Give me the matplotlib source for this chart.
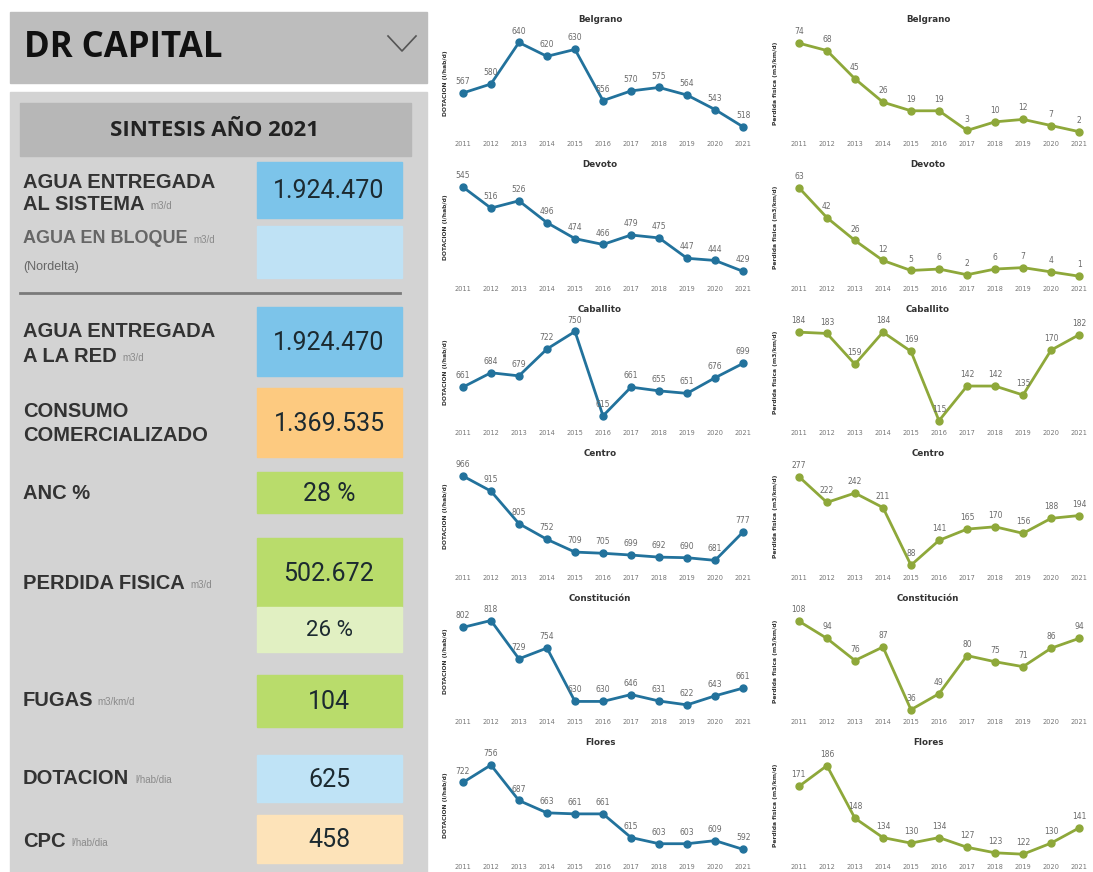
import matplotlib
matplotlib.use("Agg")
import matplotlib.pyplot as plt
from matplotlib.patches import Rectangle
from matplotlib.lines import Line2D

years = [2011, 2012, 2013, 2014, 2015, 2016, 2017, 2018, 2019, 2020, 2021]
barrios = ["Belgrano", "Devoto", "Caballito", "Centro", "Constitución", "Flores"]

dotacion_belgrano = [567, 580, 640, 620, 630, 556, 570, 575, 564, 543, 518]
dotacion_devoto = [545, 516, 526, 496, 474, 466, 479, 475, 447, 444, 429]
dotacion_caballito = [661, 684, 679, 722, 750, 615, 661, 655, 651, 676, 699]
dotacion_centro = [966, 915, 805, 752, 709, 705, 699, 692, 690, 681, 777]
dotacion_constitucion = [802, 818, 729, 754, 630, 630, 646, 631, 622, 643, 661]
dotacion_flores = [722, 756, 687, 663, 661, 661, 615, 603, 603, 609, 592]

perdida_belgrano = [74, 68, 45, 26, 19, 19, 3, 10, 12, 7, 2]
perdida_devoto = [63, 42, 26, 12, 5, 6, 2, 6, 7, 4, 1]
perdida_caballito = [184, 183, 159, 184, 169, 115, 142, 142, 135, 170, 182]
perdida_centro = [277, 222, 242, 211, 88, 141, 165, 170, 156, 188, 194]
perdida_constitucion = [108, 94, 76, 87, 36, 49, 80, 75, 71, 86, 94]
perdida_flores = [171, 186, 148, 134, 130, 134, 127, 123, 122, 130, 141]

dotacion = [dotacion_belgrano, dotacion_devoto, dotacion_caballito,
            dotacion_centro, dotacion_constitucion, dotacion_flores]
perdida = [perdida_belgrano, perdida_devoto, perdida_caballito,
           perdida_centro, perdida_constitucion, perdida_flores]

kpi_titulo = "DR CAPITAL"
kpi_anio = "SINTESIS AÑO 2021"
kpi_valores = ["1.924.470", "", "1.924.470", "1.369.535", "28 %",
               "502.672", "26 %", "104", "625", "458"]

W, H = 1093, 872
fig = plt.figure(figsize=(W / 100, H / 100), dpi=100)
fig.patch.set_facecolor("white")

# background axes in pixel coordinates for the KPI panel
bg = fig.add_axes([0, 0, 1, 1])
bg.set_xlim(0, W)
bg.set_ylim(H, 0)
bg.axis("off")

lab_font = "Liberation Sans"
val_font = "Roboto"
head_font = "Open Sans"

bg.add_patch(Rectangle((10, 12), 417, 71, color="#bdbdbd"))
bg.text(24, 48, kpi_titulo, fontsize=25, fontweight="bold", family=head_font,
        color="#111111", va="center")
bg.add_line(Line2D([388, 402, 416], [36, 51, 36], color="#555555", lw=1.2))

bg.add_patch(Rectangle((10, 92), 417, 790, color="#d3d3d3"))
bg.add_patch(Rectangle((20, 103), 391, 53, color="#b7b7b7"))
bg.text(215, 130, kpi_anio, fontsize=16, fontweight="bold", family=head_font,
        color="#222222", ha="center", va="center")

# value boxes: (top, bottom, colour)
boxes = [(162, 218, "#7cc4ea"), (226, 278, "#bfe2f5"), (307, 376, "#7cc4ea"),
         (388, 457, "#fdca80"), (472, 513, "#b9dc6b"), (538, 607, "#b9dc6b"),
         (607, 652, "#e1f0c2"), (675, 727, "#b9dc6b"), (755, 802, "#bfe3f6"),
         (815, 863, "#fde3b9")]
for (y0, y1, c), v in zip(boxes, kpi_valores):
    bg.add_patch(Rectangle((257, y0), 145, y1 - y0, color=c))
    if v:
        fs = 16 if v == "26 %" else 18
        bg.text(329, (y0 + y1) / 2 + 1, v, fontsize=fs, family=val_font,
                color="#1c2a30", ha="center", va="center")

bg.add_line(Line2D([20, 400], [293, 293], color="#7a7a7a", lw=2))

lab_kw = dict(fontsize=14.5, fontweight="bold", family=lab_font, color="#333333", va="center")
unit_kw = dict(fontsize=7, family=lab_font, color="#8a8a8a", va="center")


def label(x, y, txt, unit=None, gap=6, **kw):
    k = dict(lab_kw)
    k.update(kw)
    t = bg.text(x, y, txt, **k)
    if unit:
        fig.canvas.draw()
        bb = t.get_window_extent()
        x1 = bb.x1 / fig.dpi * 100
        bg.text(x1 + gap, y + 2, unit, **unit_kw)


label(23, 183, "AGUA ENTREGADA")
label(23, 204, "AL SISTEMA", "m3/d")
label(23, 238, "AGUA EN BLOQUE", "m3/d", color="#666666", fontsize=13)
label(23, 267, "(Nordelta)", fontweight="normal", color="#666666", fontsize=9)
label(23, 331, "AGUA ENTREGADA")
label(23, 356, "A LA RED", "m3/d")
label(23, 411, "CONSUMO")
label(23, 435, "COMERCIALIZADO")
label(23, 493, "ANC %")
label(23, 583, "PERDIDA FISICA", "m3/d")
label(23, 700, "FUGAS", "m3/km/d", gap=4)
label(23, 778, "DOTACION", "l/hab/dia")
label(23, 841, "CPC", "l/hab/dia")

# small multiples
azul = "#22729c"
verde = "#8ea83a"
cols = [
    dict(x0=450, x1=756, tx=600, ylx=445, data=dotacion, color=azul,
         ylab="DOTACION (l/hab/d)", top=0.16, bot=0.12),
    dict(x0=786, x1=1092, tx=928, ylx=775, data=perdida, color=verde,
         ylab="Perdida fisica (m3/km/d)", top=0.16, bot=0.06),
]
for col in cols:
    for i, name in enumerate(barrios):
        vals = col["data"][i]
        top_px = 29 + 144.5 * i
        bot_px = 137 + 144.5 * i
        ax = fig.add_axes([col["x0"] / W, 1 - bot_px / H,
                           (col["x1"] - col["x0"]) / W, (bot_px - top_px) / H])
        ax.plot(years, vals, color=col["color"], lw=2, marker="o", ms=5)
        r = max(vals) - min(vals)
        ax.set_ylim(min(vals) - col["bot"] * r, max(vals) + col["top"] * r)
        ax.set_xlim(2010.54, 2021.46)
        for x, v in zip(years, vals):
            ax.annotate(str(v), (x, v), xytext=(0, 5), textcoords="offset points",
                        ha="center", va="bottom", fontsize=5.5, color="#6a6a6a")
        ax.set_xticks(years)
        ax.set_xticklabels([str(y) for y in years], fontsize=4.8, color="#777777")
        ax.tick_params(length=0, pad=3)
        ax.set_yticks([])
        for s in ax.spines.values():
            s.set_visible(False)
        ax.patch.set_alpha(0)
        bg.text(col["tx"], 20 + 144.5 * i, name, fontsize=6.3, fontweight="bold",
                color="#333333", ha="center", va="center")
        bg.text(col["ylx"], (top_px + bot_px) / 2, col["ylab"], fontsize=4.3,
                fontweight="bold", color="#333333", rotation=90,
                ha="center", va="center")

fig.savefig("out.png", dpi=100)
